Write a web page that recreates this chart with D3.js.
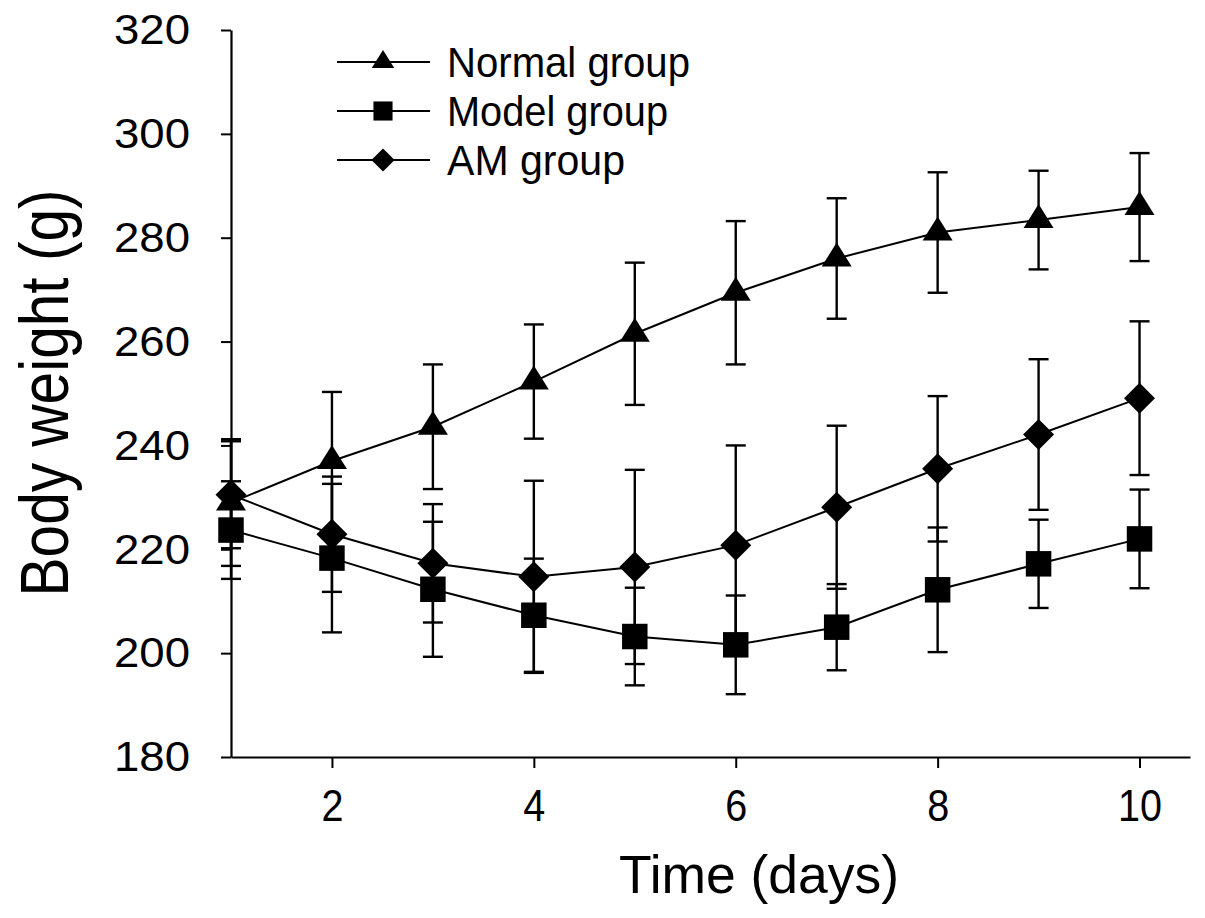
<!DOCTYPE html>
<html>
<head>
<meta charset="utf-8">
<script src="https://cdn.jsdelivr.net/npm/d3@7"></script>
<style>
  body { margin: 0; background: #fff; }
  text { font-family: "Liberation Sans", Arial, sans-serif; fill: #000; }
</style>
</head>
<body>
<div id="canvas"></div>
<script>
"use strict"

// values (g)
let days = [1, 2, 3, 4, 5, 6, 7, 8, 9, 10]
let normalMean = [229, 237, 243.6, 252.3, 261.5, 269.4, 276, 281, 283.4, 285.9]
let normalSD = [12.2, 13.3, 12, 11, 13.7, 13.8, 11.6, 11.6, 9.5, 10.4]
let modelMean = [223.7, 218.3, 212.3, 207.3, 203.2, 201.6, 205, 212.2, 217.2, 222]
let modelSD = [9.4, 14.3, 13, 10.9, 9.4, 9.5, 8.3, 12, 8.5, 9.5]
let amMean = [230.5, 222.9, 217.3, 214.7, 216.6, 220.8, 228.1, 235.5, 242.1, 249.1]
let amSD = [10.3, 11.1, 11.4, 18.5, 18.7, 19.2, 15.7, 14, 14.5, 14.8]
let seriesNames = ["Normal group", "Model group", "AM group"]
let xTicks = [2, 4, 6, 8, 10]
let yTicks = [180, 200, 220, 240, 260, 280, 300, 320]

let svgWidth = 1205
let svgHeight = 918

let drawing = d3.select("#canvas")
    .append("svg")
    .attr("width", svgWidth)
    .attr("height", svgHeight)

let xScale = d3.scaleLinear().domain([1, 10.5]).range([231, 1190])
let yScale = d3.scaleLinear().domain([180, 320]).range([757, 30])

// marker shapes
let triangleType = {
    draw(ctx, size) {
        let s = Math.sqrt(size) / 30
        ctx.moveTo(0, -16 * s)
        ctx.lineTo(15 * s, 8 * s)
        ctx.lineTo(-15 * s, 8 * s)
        ctx.closePath()
    }
}
let diamondType = {
    draw(ctx, size) {
        let r = 15.5 * Math.sqrt(size) / 30
        ctx.moveTo(0, -r)
        ctx.lineTo(r, 0)
        ctx.lineTo(0, r)
        ctx.lineTo(-r, 0)
        ctx.closePath()
    }
}
let squareType = {
    draw(ctx, size) {
        let h = 12.75 * Math.sqrt(size) / 30
        ctx.rect(-h, -h, 2 * h, 2 * h)
    }
}

let series = [
    { name: seriesNames[0], mean: normalMean, sd: normalSD, type: triangleType },
    { name: seriesNames[1], mean: modelMean, sd: modelSD, type: squareType },
    { name: seriesNames[2], mean: amMean, sd: amSD, type: diamondType }
]

// axes
let xAxis = drawing.append("g")
    .attr("transform", `translate(0,${yScale(180)})`)
    .call(d3.axisBottom(xScale).tickValues(xTicks).tickSize(11).tickSizeOuter(0).tickPadding(21))
xAxis.select(".domain").attr("stroke-width", 2.2)
xAxis.selectAll(".tick line").attr("stroke-width", 2)
xAxis.selectAll(".tick text")
    .attr("font-size", 45)
    .attr("font-family", "Liberation Sans, Arial, sans-serif")
    .attr("textLength", d => String(d).length * 22)
    .attr("lengthAdjust", "spacingAndGlyphs")

let yAxis = drawing.append("g")
    .attr("transform", `translate(${xScale(1)},0)`)
    .call(d3.axisLeft(yScale).tickValues(yTicks).tickSize(10).tickSizeOuter(0).tickPadding(31))
yAxis.select(".domain").attr("stroke-width", 2.2)
yAxis.selectAll(".tick line").attr("stroke-width", 2)
yAxis.selectAll(".tick text")
    .attr("font-size", 43)
    .attr("font-family", "Liberation Sans, Arial, sans-serif")
    .attr("textLength", 76)
    .attr("lengthAdjust", "spacingAndGlyphs")

// axis titles
drawing.append("text")
    .attr("transform", "translate(68,393) rotate(-90)")
    .attr("text-anchor", "middle")
    .attr("font-size", 68)
    .attr("textLength", 407)
    .attr("lengthAdjust", "spacingAndGlyphs")
    .text("Body weight (g)")

drawing.append("text")
    .attr("x", 759)
    .attr("y", 893)
    .attr("text-anchor", "middle")
    .attr("font-size", 54)
    .attr("textLength", 280)
    .attr("lengthAdjust", "spacingAndGlyphs")
    .text("Time (days)")

// error bars
let capHalf = 10
series.forEach(s => {
    let g = drawing.append("g").attr("stroke", "black").attr("stroke-width", 2.4)
    days.forEach((d, i) => {
        let x = xScale(d)
        let top = yScale(s.mean[i] + s.sd[i])
        let bot = yScale(s.mean[i] - s.sd[i])
        g.append("line").attr("x1", x).attr("x2", x).attr("y1", top).attr("y2", bot)
        g.append("line").attr("x1", x - capHalf).attr("x2", x + capHalf).attr("y1", top).attr("y2", top)
        g.append("line").attr("x1", x - capHalf).attr("x2", x + capHalf).attr("y1", bot).attr("y2", bot)
    })
})

// lines
let lineGen = d3.line()
    .x((d, i) => xScale(days[i]))
    .y(d => yScale(d))

series.forEach(s => {
    drawing.append("path")
        .attr("d", lineGen(s.mean))
        .attr("fill", "none")
        .attr("stroke", "black")
        .attr("stroke-width", 2)
})

// markers
series.forEach(s => {
    drawing.append("g").selectAll("path")
        .data(s.mean)
        .join("path")
        .attr("transform", (d, i) => `translate(${xScale(days[i])},${yScale(d)})`)
        .attr("d", d3.symbol().type(s.type).size(900))
        .attr("fill", "black")
})

// legend
let legendY = [62, 111, 160]
let legendTextLength = [243, 221, 178]
series.forEach((s, i) => {
    let y = legendY[i]
    drawing.append("line")
        .attr("x1", 337).attr("x2", 430)
        .attr("y1", y).attr("y2", y)
        .attr("stroke", "black")
        .attr("stroke-width", 2)
    drawing.append("path")
        .attr("transform", `translate(383,${y})`)
        .attr("d", d3.symbol().type(s.type).size(506))
        .attr("fill", "black")
    drawing.append("text")
        .attr("x", 447)
        .attr("y", y + 15)
        .attr("font-size", 42)
        .attr("textLength", legendTextLength[i])
        .attr("lengthAdjust", "spacingAndGlyphs")
        .text(s.name)
})
</script>
</body>
</html>
